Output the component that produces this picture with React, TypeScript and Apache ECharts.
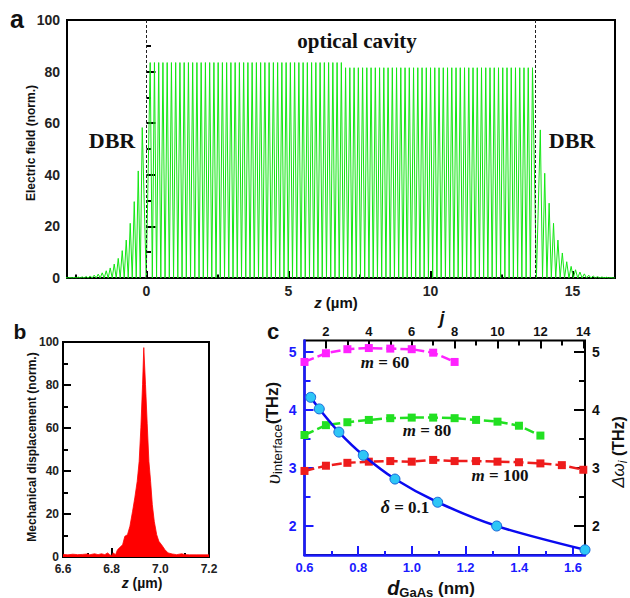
import React, { useEffect, useRef } from "react";
import * as echarts from "echarts";

// ---------- Panel a: electric field ----------
const aXMin = -2.8;
const aXMax = 16.5;
const aXLabels = [0, 5, 10, 15];
const aXMajorTicks = [0, 5, 10, 15];
const aXMinorTicks = [-2.5, 2.5, 7.5, 12.5];
const aYLabels = [0, 20, 40, 60, 80, 100];
const aYMajorTicks = [20, 40, 60, 80];
const aYMinorTicks = [10, 30, 50, 70, 90];
// left DBR peak heights, from the cavity edge outwards (to the left)
const leftDbrPeaks = [58.3, 41.5, 29.6, 21.2, 14.7, 10.6, 7.6, 5.4, 3.9, 2.8, 2.0, 1.5, 1.1, 0.8, 0.6, 0.45, 0.35, 0.25, 0.2, 0.15];
const leftDbrStart = -0.15;
const leftDbrPeriod = 0.141;
// cavity peak levels and how many peaks sit at each level
const cavityLevels = [83.5, 81.5];
const cavityCounts = [46, 45];
const cavityStart = 0.13;
const cavityPeriod = 0.1496;
// right DBR peak heights, from the cavity edge outwards (to the right)
const rightDbrPeaks = [57.4, 40.6, 29.0, 21.2, 14.7, 9.7, 6.3, 4.5, 3.2, 2.3, 1.6, 1.1, 0.8, 0.55, 0.4, 0.3, 0.2];
const rightDbrStart = 13.87;
const rightDbrPeriod = 0.155;
const cavityEdges = [0, 13.7];

// ---------- Panel b: mechanical displacement ----------
const bZ = [6.6, 6.62, 6.64, 6.66, 6.68, 6.70, 6.71, 6.72, 6.73, 6.744, 6.758, 6.772, 6.783, 6.792, 6.80, 6.806, 6.816, 6.824, 6.834, 6.845, 6.854, 6.865, 6.875, 6.886, 6.895, 6.905, 6.913, 6.920, 6.927, 6.932, 6.939, 6.946, 6.953, 6.960, 6.967, 6.975, 6.985, 6.994, 7.005, 7.019, 7.032, 7.049, 7.067, 7.088, 7.101, 7.12, 7.15, 7.2];
const bV = [1.2, 1.0, 1.3, 1.1, 1.2, 1.4, 1.0, 1.3, 1.5, 1.1, 1.5, 1.1, 1.9, 1.1, 0.6, 1.9, 1.1, 3.4, 4.5, 5.7, 9.6, 10.4, 14.3, 21.3, 27.5, 35.2, 44.5, 60.1, 80.3, 97.4, 80.3, 62, 44.5, 35.2, 24.4, 16.6, 10.4, 7.3, 5.7, 3.4, 1.9, 1.4, 1.1, 1.5, 1.1, 1.0, 1.0, 1.0];
const bXLabels = [6.6, 6.8, 7.0, 7.2];
const bXMajorTicks = [6.8, 7.0];
const bXMinorTicks = [6.7, 6.9, 7.1];
const bYLabels = [0, 20, 40, 60, 80, 100];
const bYMajorTicks = [20, 40, 60, 80];
const bYMinorTicks = [10, 30, 50, 70, 90];

// ---------- Panel c ----------
const dGaAs = [0.623, 0.655, 0.728, 0.819, 0.937, 1.096, 1.316, 1.645];
const nuInterface = [4.22, 4.02, 3.62, 3.22, 2.81, 2.41, 2.0, 1.59];
const j60 = [1, 2, 3, 4, 5, 6, 7, 8];
const m60 = [4.83, 4.98, 5.05, 5.07, 5.06, 5.05, 4.99, 4.83];
const j80 = [1, 2, 3, 4, 5, 6, 7, 8, 9, 10, 11, 12];
const m80 = [3.57, 3.74, 3.79, 3.83, 3.86, 3.87, 3.87, 3.86, 3.83, 3.80, 3.73, 3.56];
const j100 = [1, 2, 3, 4, 5, 6, 7, 8, 9, 10, 11, 12, 13, 14];
const m100 = [2.95, 3.04, 3.09, 3.11, 3.12, 3.11, 3.14, 3.12, 3.12, 3.11, 3.10, 3.08, 3.05, 2.97];
const cXLabels = [0.6, 0.8, 1.0, 1.2, 1.4, 1.6];
const cXMajorTicks = [0.8, 1.0, 1.2, 1.4, 1.6];
const cXMinorTicks = [0.7, 0.9, 1.1, 1.3, 1.5];
const cJLabels = [2, 4, 6, 8, 10, 12, 14];
const cJMajorTicks = [2, 4, 6, 8, 10, 12, 14];
const cJMinorTicks = [3, 5, 7, 9, 11, 13];
const cYLabels = [2, 3, 4, 5];
const cYMajorTicks = [2, 3, 4, 5];
const cYMinorTicks = [2.5, 3.5, 4.5];

const SANS = "Liberation Sans";
const SERIF = "Liberation Serif";
const BLUE = "#1a1aff";

function buildField(): number[][] {
  const peaks: number[][] = [];
  for (let i = leftDbrPeaks.length - 1; i >= 0; i--) peaks.push([leftDbrStart - i * leftDbrPeriod, leftDbrPeaks[i]]);
  let idx = 0;
  cavityLevels.forEach((lv, k) => {
    for (let n = 0; n < cavityCounts[k]; n++) {
      peaks.push([cavityStart + idx * cavityPeriod, lv]);
      idx++;
    }
  });
  rightDbrPeaks.forEach((v, i) => peaks.push([rightDbrStart + i * rightDbrPeriod, v]));
  const pts: number[][] = [[aXMin, 0]];
  for (let i = 0; i < peaks.length; i++) {
    const prev = i > 0 ? peaks[i - 1][0] : peaks[0][0] - leftDbrPeriod;
    pts.push([(prev + peaks[i][0]) / 2, 0]);
    pts.push(peaks[i]);
  }
  pts.push([peaks[peaks.length - 1][0] + rightDbrPeriod / 2, 0]);
  pts.push([aXMax, 0]);
  return pts;
}

let measureCtx: CanvasRenderingContext2D | null = null;
function measure(text: string, font: string): number {
  if (!measureCtx) measureCtx = document.createElement("canvas").getContext("2d");
  measureCtx!.font = font;
  return measureCtx!.measureText(text).width;
}

type Seg = { t: string; font: string; dy?: number; fill?: string };
function seqText(segs: Seg[], cx: number, cy: number, rotation = 0): any {
  const widths = segs.map((s) => measure(s.t, s.font));
  const total = widths.reduce((a, b) => a + b, 0);
  let x = -total / 2;
  const children = segs.map((s, i) => {
    const el = {
      type: "text",
      x,
      y: s.dy || 0,
      style: {
        text: s.t,
        font: s.font,
        fill: s.fill || "#111",
        textAlign: "left",
        textVerticalAlign: "middle",
        align: "left",
        verticalAlign: "middle",
      },
    };
    x += widths[i];
    return el;
  });
  return { type: "group", x: cx, y: cy, rotation, children };
}

function tickAxis(
  gridIndex: number,
  min: number,
  max: number,
  position: string,
  ticks: number[],
  tickLen: number,
  tickColor: string,
  labels: number[] | null,
  labelColor: string,
  labelSize: number,
  labelMargin: number,
  decimals: number,
  axisLine: any = { show: false }
): any {
  return {
    type: "value",
    gridIndex,
    min,
    max,
    position,
    z: 1,
    axisLine,
    splitLine: { show: false },
    axisTick: {
      show: true,
      inside: true,
      length: tickLen,
      customValues: ticks,
      lineStyle: { color: tickColor, width: 2 },
    },
    axisLabel: labels
      ? {
          show: true,
          customValues: labels,
          margin: labelMargin,
          color: labelColor,
          fontSize: labelSize,
          fontWeight: "bold",
          fontFamily: SANS,
          formatter: (v: number) => v.toFixed(decimals),
        }
      : { show: false },
  };
}

export default function App() {
  const ref = useRef<HTMLDivElement>(null);
  useEffect(() => {
    if (!ref.current) return;
    const chart = echarts.init(ref.current, undefined, { renderer: "svg" });
    const gridStyle = { show: true, borderColor: "#000", borderWidth: 2, backgroundColor: "transparent", z: 0 };
    const blueLine = { show: true, lineStyle: { color: BLUE, width: 2.5 } };

    const xAxis = [
      tickAxis(0, aXMin, aXMax, "bottom", aXMajorTicks, 7, "#000", aXLabels, "#222", 14, 6, 0),
      tickAxis(0, aXMin, aXMax, "bottom", aXMinorTicks, 3.5, "#000", null, "", 0, 0, 0),
      tickAxis(1, 6.6, 7.2, "bottom", bXMajorTicks, 9, "#000", bXLabels, "#222", 12, 6, 1),
      tickAxis(1, 6.6, 7.2, "bottom", bXMinorTicks, 4, "#000", null, "", 0, 0, 0),
      tickAxis(2, 0.6, 1.645, "bottom", cXMajorTicks, 9, BLUE, cXLabels, BLUE, 13, 6, 1, blueLine),
      tickAxis(2, 0.6, 1.645, "bottom", cXMinorTicks, 4, BLUE, null, "", 0, 0, 0),
      tickAxis(2, 1, 14.08, "top", cJMajorTicks, 8, "#000", cJLabels, "#111", 13, 3, 0),
      tickAxis(2, 1, 14.08, "top", cJMinorTicks, 5, "#000", null, "", 0, 0, 0),
    ];
    const yAxis = [
      tickAxis(0, 0, 100, "left", aYMajorTicks, 9, "#000", aYLabels, "#222", 14, 7, 0),
      tickAxis(0, 0, 100, "left", aYMinorTicks, 4.5, "#000", null, "", 0, 0, 0),
      tickAxis(1, 0, 100, "left", bYMajorTicks, 8, "#000", bYLabels, "#222", 12, 4, 0),
      tickAxis(1, 0, 100, "left", bYMinorTicks, 5, "#000", null, "", 0, 0, 0),
      tickAxis(2, 1.5, 5.2, "left", cYMajorTicks, 9, BLUE, cYLabels, BLUE, 14, 8, 0, blueLine),
      tickAxis(2, 1.5, 5.2, "left", cYMinorTicks, 6, BLUE, null, "", 0, 0, 0),
      tickAxis(2, 1.5, 5.2, "right", cYMajorTicks, 11, "#000", cYLabels, "#111", 14, 7, 0),
      tickAxis(2, 1.5, 5.2, "right", cYMinorTicks, 6, "#000", null, "", 0, 0, 0),
    ];

    const dashed = (color: string) => ({ type: [10, 4], width: 2.5, color });
    const squareSeries = (xs: number[], ys: number[], color: string) => ({
      type: "line",
      xAxisIndex: 6,
      yAxisIndex: 6,
      data: xs.map((x, i) => [x, ys[i]]),
      symbol: "rect",
      symbolSize: 8,
      itemStyle: { color },
      lineStyle: dashed(color),
      z: 3,
    });

    const bold = (size: number, fam = SANS) => `bold ${size}px "${fam}"`;
    const boldItalic = (size: number, fam = SANS) => `italic bold ${size}px "${fam}"`;

    const graphic = [
      seqText([{ t: "a", font: bold(25) }], 17, 19),
      seqText([{ t: "b", font: bold(21) }], 20, 331),
      seqText([{ t: "c", font: bold(22) }], 273, 331),
      seqText([{ t: "DBR", font: bold(22, SERIF) }], 112, 140),
      seqText([{ t: "DBR", font: bold(22, SERIF) }], 572, 140),
      seqText([{ t: "optical cavity", font: bold(21, SERIF) }], 357, 41),
      seqText([{ t: "Electric field (norm.)", font: bold(12) }], 31, 143, Math.PI / 2),
      seqText([{ t: "z", font: boldItalic(15) }, { t: " (µm)", font: bold(15) }], 336, 302),
      seqText([{ t: "Mechanical displacement (norm.)", font: bold(12) }], 32, 447, Math.PI / 2),
      seqText([{ t: "z", font: boldItalic(14) }, { t: " (µm)", font: bold(14) }], 142, 583),
      seqText(
        [
          { t: "υ", font: `italic 22px "${SERIF}"` },
          { t: "interface", font: `13px "${SANS}"`, dy: 5 },
          { t: "(THz)", font: bold(17) },
        ],
        272,
        433,
        Math.PI / 2
      ),
      seqText(
        [
          { t: "Δω", font: `italic 17px "${SANS}"` },
          { t: "i", font: `italic 12px "${SANS}"`, dy: 5 },
          { t: " (THz)", font: bold(16) },
        ],
        618,
        452,
        Math.PI / 2
      ),
      seqText(
        [
          { t: "d", font: boldItalic(20) },
          { t: "GaAs", font: bold(13), dy: 4 },
          { t: " (nm)", font: bold(17) },
        ],
        431,
        588
      ),
      seqText([{ t: "j", font: boldItalic(18) }], 442, 318),
      seqText([{ t: "m", font: boldItalic(17, SERIF) }, { t: " = 60", font: bold(17, SERIF) }], 385, 362),
      seqText([{ t: "m", font: boldItalic(17, SERIF) }, { t: " = 80", font: bold(17, SERIF) }], 427, 430),
      seqText([{ t: "m", font: boldItalic(17, SERIF) }, { t: " = 100", font: bold(17, SERIF) }], 500, 475),
      seqText([{ t: "δ", font: boldItalic(18, SERIF) }, { t: " = 0.1", font: bold(17, SERIF) }], 405, 507),
    ];

    chart.setOption({
      animation: false,
      backgroundColor: "#fff",
      grid: [
        { ...gridStyle, left: 67, top: 20, width: 548, height: 258 },
        { ...gridStyle, left: 63, top: 342, width: 146, height: 215 },
        { ...gridStyle, left: 304.5, top: 340.5, width: 280.5, height: 214.5 },
      ],
      xAxis,
      yAxis,
      graphic,
      series: [
        {
          type: "line",
          xAxisIndex: 0,
          yAxisIndex: 0,
          data: buildField(),
          symbol: "none",
          lineStyle: { color: "#14e614", width: 1 },
          itemStyle: { color: "#14e614" },
          z: 2,
          markLine: {
            silent: true,
            symbol: "none",
            label: { show: false },
            lineStyle: { type: [3, 2], color: "#222", width: 1 },
            data: cavityEdges.map((x) => ({ xAxis: x })),
          },
        },
        {
          type: "line",
          xAxisIndex: 2,
          yAxisIndex: 2,
          data: bZ.map((z, i) => [z, bV[i]]),
          symbol: "none",
          lineStyle: { color: "#ff0000", width: 0.8 },
          areaStyle: { color: "#ff0000", opacity: 1 },
          z: 2,
        },
        squareSeries(j100, m100, "#ee1c1c"),
        squareSeries(j80, m80, "#22e022"),
        squareSeries(j60, m60, "#ff22ff"),
        {
          type: "line",
          xAxisIndex: 4,
          yAxisIndex: 4,
          data: dGaAs.map((d, i) => [d, nuInterface[i]]),
          smooth: 0.3,
          symbol: "circle",
          symbolSize: 10,
          itemStyle: { color: "#2ec6f6", borderColor: "#1565d8", borderWidth: 1 },
          lineStyle: { color: "#0a0af0", width: 2.5 },
          z: 4,
        },
      ],
    });
    return () => chart.dispose();
  }, []);
  return <div ref={ref} style={{ position: "fixed", left: 0, top: 0, width: 630, height: 598, background: "#fff" }} />;
}
